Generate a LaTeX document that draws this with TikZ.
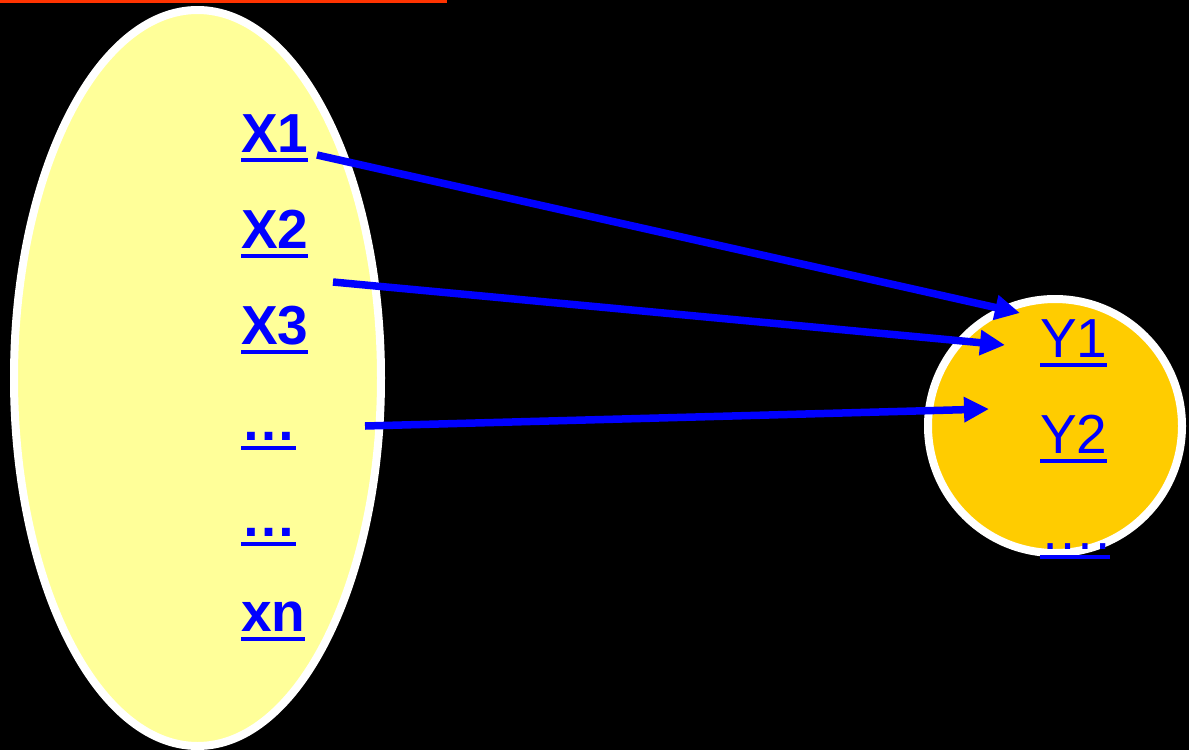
\documentclass[tikz,border=0pt]{standalone}
\usepackage{fontspec}
\setmainfont{Liberation Sans}
\usepackage{tikz}
\usetikzlibrary{arrows.meta,positioning,shapes.geometric}
\usepackage{xcolor}
\definecolor{domyellow}{HTML}{FFFF99}
\definecolor{codgold}{HTML}{FFCC00}
\definecolor{linkblue}{HTML}{0000FF}
\definecolor{titlered}{HTML}{FF3300}
\newsavebox{\ulbox}
\newcommand{\thickul}[1]{\sbox{\ulbox}{#1}\rlap{\rule[-0.19em]{\wd\ulbox}{0.09em}}\usebox{\ulbox}}

\begin{document}
\begin{tikzpicture}[
    x=1pt, y=-1pt,
    setshape/.style={ellipse, draw=white, line width=8pt, inner sep=0pt},
    domset/.style={setshape, fill=domyellow,
                minimum width=367pt, minimum height=736pt},
    codset/.style={setshape, fill=codgold,
                minimum width=254pt, minimum height=254pt},
    elem/.style={anchor=base west, inner sep=0pt, text=linkblue,
                font=\fontsize{55}{60}\selectfont\bfseries},
    image/.style={elem, font=\fontsize{55}{60}\selectfont},
    maps/.style={-{Triangle[length=25pt,width=24pt]}, line width=7.5pt, linkblue}
  ]

  %% Page and clipped title rule
  \fill[black] (0,0) rectangle (1189,750);
  \useasboundingbox (0,0) rectangle (1189,750);
  \fill[titlered] (0,0) rectangle (447,2.5);

  %% The two sets
  \node[domset] (dom) at (197.5,378) {};
  \node[codset] (cod) at (1055,426) {};

  %% Elements of the first set
  \node[elem] (x1) at (241,152) {\thickul{X1}};
  \node[elem] (x2) at (241,248) {\thickul{X2}};
  \node[elem] (x3) at (241,344) {\thickul{X3}};
  \node[elem] (dotsa) at (241,440) {\thickul{…}};
  \node[elem] (dotsb) at (241,536) {\thickul{…}};
  \node[elem] (xn) at (241,631) {\thickul{xn}};

  %% Elements of the second set
  \node[image] (y1) at (1040,357) {\thickul{Y1}};
  \node[image] (y2) at (1040,453) {\thickul{Y2}};
  \node[image] (ydots) at (1040,549) {\thickul{….}};

  %% Arrow ends
  \coordinate (froma) at (317,155);
  \coordinate (fromb) at (333,282);
  \coordinate (fromc) at (365,426);
  \coordinate (toa) at (1020,313);
  \coordinate (tob) at (1005,345);
  \coordinate (toc) at (989,409);

  %% Mapping arrows
  \draw[maps] (froma) -- (toa);
  \draw[maps] (fromb) -- (tob);
  \draw[maps] (fromc) -- (toc);

\end{tikzpicture}
\end{document}
